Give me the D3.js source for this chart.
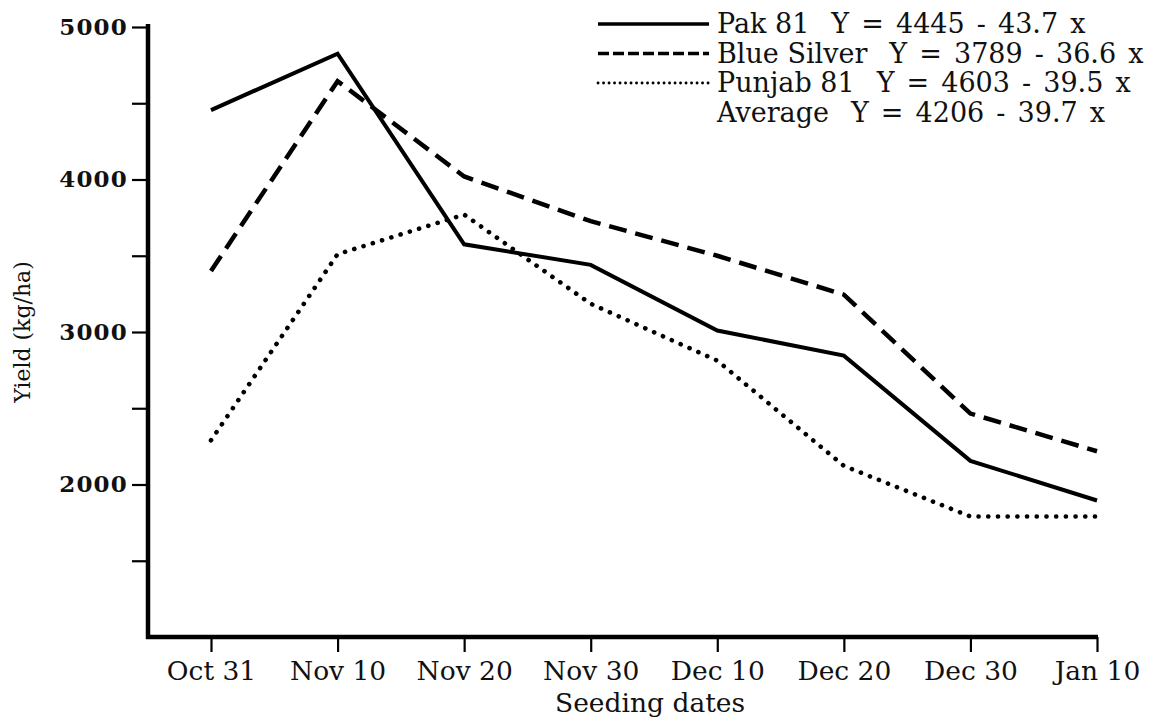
<!DOCTYPE html>
<html>
<head>
<meta charset="utf-8">
<script src="https://cdn.jsdelivr.net/npm/d3@7"></script>
<style>
  html, body { margin: 0; padding: 0; background: #fff; }
  svg text { fill: #111; }
</style>
</head>
<body>
<svg id="chart" width="1149" height="717"></svg>
<script>
// Seeding dates on the x axis
const categories = ["Oct 31", "Nov 10", "Nov 20", "Nov 30", "Dec 10", "Dec 20", "Dec 30", "Jan 10"];

// Grain yield (kg/ha) per cultivar
const pak81      = [4455, 4825, 3575, 3440, 3010, 2845, 2155, 1895];
const blueSilver = [3400, 4645, 4020, 3727, 3500, 3245, 2465, 2218];
const punjab81   = [2290, 3510, 3770, 3185, 2812, 2122, 1790, 1790];

// Key: cultivar names and their regression equations
const legendNames = ["Pak 81", "Blue Silver", "Punjab 81", "Average"];
const legendEquations = [
  "Y = 4445 - 43.7 x",
  "Y = 3789 - 36.6 x",
  "Y = 4603 - 39.5 x",
  "Y = 4206 - 39.7 x"
];

// Y axis ticks
const yTicks = [1500, 2000, 2500, 3000, 3500, 4000, 4500, 5000];
const yLabelled = [2000, 3000, 4000, 5000];

const svg = d3.select("#chart");
const serif = "'DejaVu Serif', serif";

const axisX0 = 148, axisY0 = 637;
const x = d3.scalePoint().domain(categories).range([211, 1097]);
const y = d3.scaleLinear().domain([1000, 5000]).range([axisY0, 27]);

// Line styles
const styles = [
  { values: pak81, dash: null, width: 4, cap: "butt" },
  { values: blueSilver, dash: "18,9", width: 4.5, cap: "butt" },
  { values: punjab81, dash: "0.1,9.6", width: 4.6, cap: "round" }
];

const line = d3.line()
  .x((d, i) => x(categories[i]))
  .y(d => y(d));

svg.append("g").selectAll("path")
  .data(styles)
  .join("path")
  .attr("d", d => line(d.values))
  .attr("fill", "none")
  .attr("stroke", "#000")
  .attr("stroke-width", d => d.width)
  .attr("stroke-linejoin", "miter")
  .attr("stroke-linecap", d => d.cap)
  .attr("stroke-dasharray", d => d.dash);

// Y axis
const yAxis = d3.axisLeft(y)
  .tickValues(yTicks)
  .tickSize(16)
  .tickPadding(4)
  .tickFormat(d => yLabelled.includes(d) ? d : "");
const gy = svg.append("g").attr("transform", `translate(${axisX0},0)`).call(yAxis);
gy.select(".domain").remove();
gy.selectAll(".tick line").attr("stroke", "#000").attr("stroke-width", 2.2);
gy.selectAll(".tick text")
  .attr("font-family", serif)
  .attr("font-weight", "bold")
  .attr("font-size", 23)
  .attr("letter-spacing", 1.2)
  .attr("fill", "#111");

// X axis
const xAxis = d3.axisBottom(x).tickSize(15).tickPadding(9);
const gx = svg.append("g").attr("transform", `translate(0,${axisY0})`).call(xAxis);
gx.select(".domain").remove();
gx.selectAll(".tick line").attr("stroke", "#000").attr("stroke-width", 2.2);
gx.selectAll(".tick text")
  .attr("font-family", serif)
  .attr("font-size", 26.5)
  .attr("fill", "#111");

// Axis frame lines
svg.append("line")
  .attr("x1", axisX0).attr("x2", axisX0)
  .attr("y1", y(5000) - 3).attr("y2", axisY0 + 2)
  .attr("stroke", "#000").attr("stroke-width", 4.5);
svg.append("line")
  .attr("x1", axisX0 - 2).attr("x2", x(categories[categories.length - 1]) + 1)
  .attr("y1", axisY0).attr("y2", axisY0)
  .attr("stroke", "#000").attr("stroke-width", 4.5);

// Axis titles
svg.append("text")
  .attr("x", 555)
  .attr("y", 712)
  .attr("font-family", serif)
  .attr("font-size", 26.5)
  .text("Seeding dates");

svg.append("text")
  .attr("transform", `translate(30,${(y(5000) + axisY0) / 2}) rotate(-90)`)
  .attr("text-anchor", "middle")
  .attr("font-family", serif)
  .attr("font-size", 22)
  .text("Yield (kg/ha)");

// Key
const legendX0 = 598, legendX1 = 709, legendTop = 24, legendStep = 29.5;
const lg = svg.append("g");
styles.forEach((s, i) => {
  lg.append("line")
    .attr("x1", legendX0).attr("x2", legendX1)
    .attr("y1", legendTop + i * legendStep).attr("y2", legendTop + i * legendStep)
    .attr("stroke", "#000")
    .attr("stroke-width", i === 2 ? 2.8 : 3.4)
    .attr("stroke-linecap", s.cap)
    .attr("stroke-dasharray", i === 1 ? "11,4" : (i === 2 ? "0.1,5.4" : null));
});
legendNames.forEach((name, i) => {
  const t = lg.append("text")
    .attr("x", legendX1 + 8)
    .attr("y", legendTop + i * legendStep + 9)
    .attr("font-family", serif)
    .attr("font-size", 27)
    .attr("xml:space", "preserve");
  t.append("tspan").text(name);
  t.append("tspan").attr("dx", 22).attr("word-spacing", 3.5).text(legendEquations[i]);
});
</script>
</body>
</html>
